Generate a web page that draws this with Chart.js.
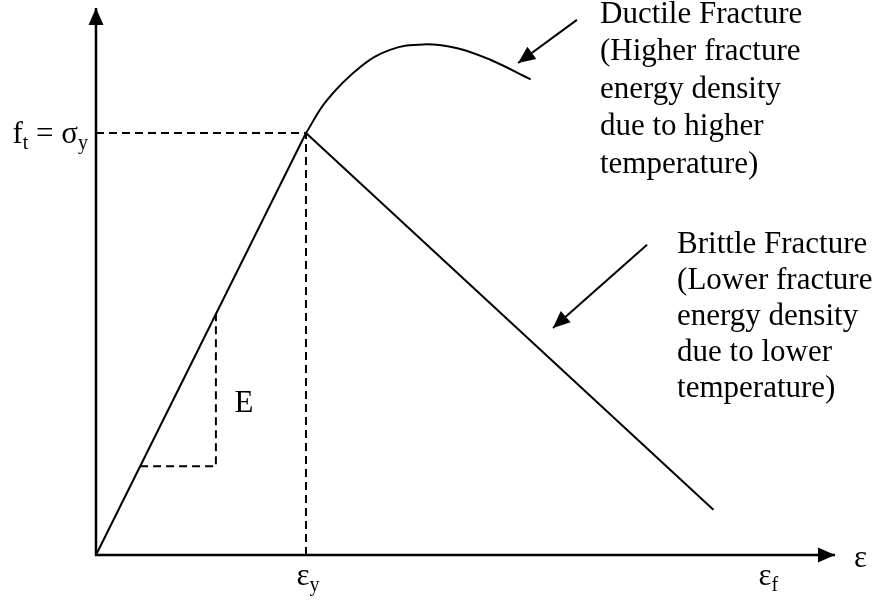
<!DOCTYPE html>
<html>
<head>
<meta charset="utf-8">
<script src="https://cdn.jsdelivr.net/npm/chart.js@4"></script>
<style>
  body { margin: 0; background: #fff; }
  #wrap { width: 878px; height: 602px; }
</style>
</head>
<body>
<div id="wrap"><canvas id="stressStrain"></canvas></div>
<script>
// strain (x) in units of yield strain, stress (y) in units of yield stress
const elasticX = [0, 1];
const elasticY = [0, 1];
const ductileX = [1, 1.10, 1.26, 1.40, 1.56, 1.72, 1.88, 2.07];
const ductileY = [1, 1.078, 1.157, 1.197, 1.210, 1.201, 1.173, 1.127];
const brittleX = [1, 2.94];
const brittleY = [1, 0.107];
const yieldGuideX = [0, 1, 1];
const yieldGuideY = [1, 1, 0];
const slopeGuideX = [0.21, 0.571, 0.571];
const slopeGuideY = [0.21, 0.21, 0.573];
const axisX = [0, 0, 3.519];
const axisY = [1.296, 0, 0];

// tick labels
const strainTicks = [1, 3.2];
const strainTickSubs = ["y", "f"];
const ductileNote = ["Ductile Fracture", "(Higher fracture", "energy density", "due to higher", "temperature)"];
const brittleNote = ["Brittle Fracture", "(Lower fracture", "energy density", "due to lower", "temperature)"];

const toPts = (xs, ys) => xs.map((x, i) => ({ x: x, y: ys[i] }));

const FONT = '"Liberation Serif", "Times New Roman", serif';

function arrowHead(ctx, x1, y1, x2, y2, len, half) {
  const a = Math.atan2(y2 - y1, x2 - x1);
  const bx = x2 - len * Math.cos(a), by = y2 - len * Math.sin(a);
  ctx.beginPath();
  ctx.moveTo(x2, y2);
  ctx.lineTo(bx + half * Math.sin(a), by - half * Math.cos(a));
  ctx.lineTo(bx - half * Math.sin(a), by + half * Math.cos(a));
  ctx.closePath();
  ctx.fill();
}

// draws base text followed by a subscript
function subText(ctx, base, sub, x, y) {
  ctx.font = "31px " + FONT;
  ctx.fillText(base, x, y);
  const w = ctx.measureText(base).width;
  ctx.font = "20px " + FONT;
  ctx.fillText(sub, x + w, y + 6);
  return w + ctx.measureText(sub).width;
}

const notes = {
  id: "notes",
  afterDatasetsDraw(chart) {
    const ctx = chart.ctx;
    const px = v => chart.scales.x.getPixelForValue(v);
    const py = v => chart.scales.y.getPixelForValue(v);
    ctx.save();
    ctx.fillStyle = "#000";
    ctx.strokeStyle = "#000";

    // axis arrow heads
    arrowHead(ctx, px(0), py(0), px(0), py(axisY[0]), 17, 7.5);
    arrowHead(ctx, px(0), py(0), px(axisX[2]), py(0), 17, 7.5);

    // pointer arrows
    ctx.lineWidth = 2;
    [[2.290, 1.268, 2.010, 1.166], [2.624, 0.735, 2.176, 0.538]].forEach(a => {
      ctx.beginPath();
      ctx.moveTo(px(a[0]), py(a[1]));
      ctx.lineTo(px(a[2]), py(a[3]));
      ctx.stroke();
      arrowHead(ctx, px(a[0]), py(a[1]), px(a[2]), py(a[3]), 17, 7.5);
    });

    // notes
    ctx.font = "31px " + FONT;
    ctx.textBaseline = "middle";
    ctx.textAlign = "left";
    ductileNote.forEach((t, i) => ctx.fillText(t, px(2.4), py(1.28) + i * 37.5));
    brittleNote.forEach((t, i) => ctx.fillText(t, px(2.767), py(0.735) + i * 36));
    ctx.fillText("E", px(0.66), py(0.358));

    // x labels
    ctx.textBaseline = "alphabetic";
    strainTicks.forEach((v, i) => {
      ctx.font = "31px " + FONT;
      const w = ctx.measureText("\u03b5").width;
      subText(ctx, "\u03b5", strainTickSubs[i], px(v) - w / 2 - 3, py(0) + 30);
    });
    ctx.font = "31px " + FONT;
    ctx.fillText("\u03b5", px(axisX[2]) + 19, py(0) + 12);

    // y label: f_t = sigma_y
    ctx.font = "31px " + FONT;
    const wf = ctx.measureText("f").width;
    const weq = ctx.measureText(" = \u03c3").width;
    ctx.font = "20px " + FONT;
    const wt = ctx.measureText("t").width;
    const wy = ctx.measureText("y").width;
    const x = px(0) - 8 - (wf + wt + weq + wy);
    const yb = py(1) + 10;
    ctx.font = "31px " + FONT;
    ctx.fillText("f", x, yb);
    ctx.font = "20px " + FONT;
    ctx.fillText("t", x + wf, yb + 6);
    ctx.font = "31px " + FONT;
    ctx.fillText(" = \u03c3", x + wf + wt, yb);
    ctx.font = "20px " + FONT;
    ctx.fillText("y", x + wf + wt + weq, yb + 6);
    ctx.restore();
  }
};

const line = (pts, width, dash, tension) => ({
  data: pts,
  showLine: true,
  borderColor: "#000",
  borderWidth: width,
  borderDash: dash,
  pointRadius: 0,
  fill: false,
  tension: tension || 0,
});

const ctx = document.getElementById("stressStrain").getContext("2d");
const chart = new Chart(ctx, {
  type: "scatter",
  data: {
    datasets: [
      line(toPts(axisX, axisY), 2.5, []),
      line(toPts(yieldGuideX, yieldGuideY), 2, [8, 5]),
      line(toPts(slopeGuideX, slopeGuideY), 2, [8, 5]),
      line(toPts(elasticX, elasticY), 2, []),
      line(toPts(ductileX, ductileY), 2, [], 0.4),
      line(toPts(brittleX, brittleY), 2, []),
    ],
  },
  options: {
    responsive: true,
    maintainAspectRatio: false,
    animation: false,
    layout: { padding: 0 },
    scales: {
      x: { type: "linear", display: false, min: -0.4571, max: 3.7238 },
      y: { type: "linear", display: false, min: -0.1114, max: 1.3152 },
    },
    plugins: {
      legend: { display: false },
      tooltip: { enabled: false },
    },
  },
  plugins: [notes],
});
</script>
</body>
</html>
